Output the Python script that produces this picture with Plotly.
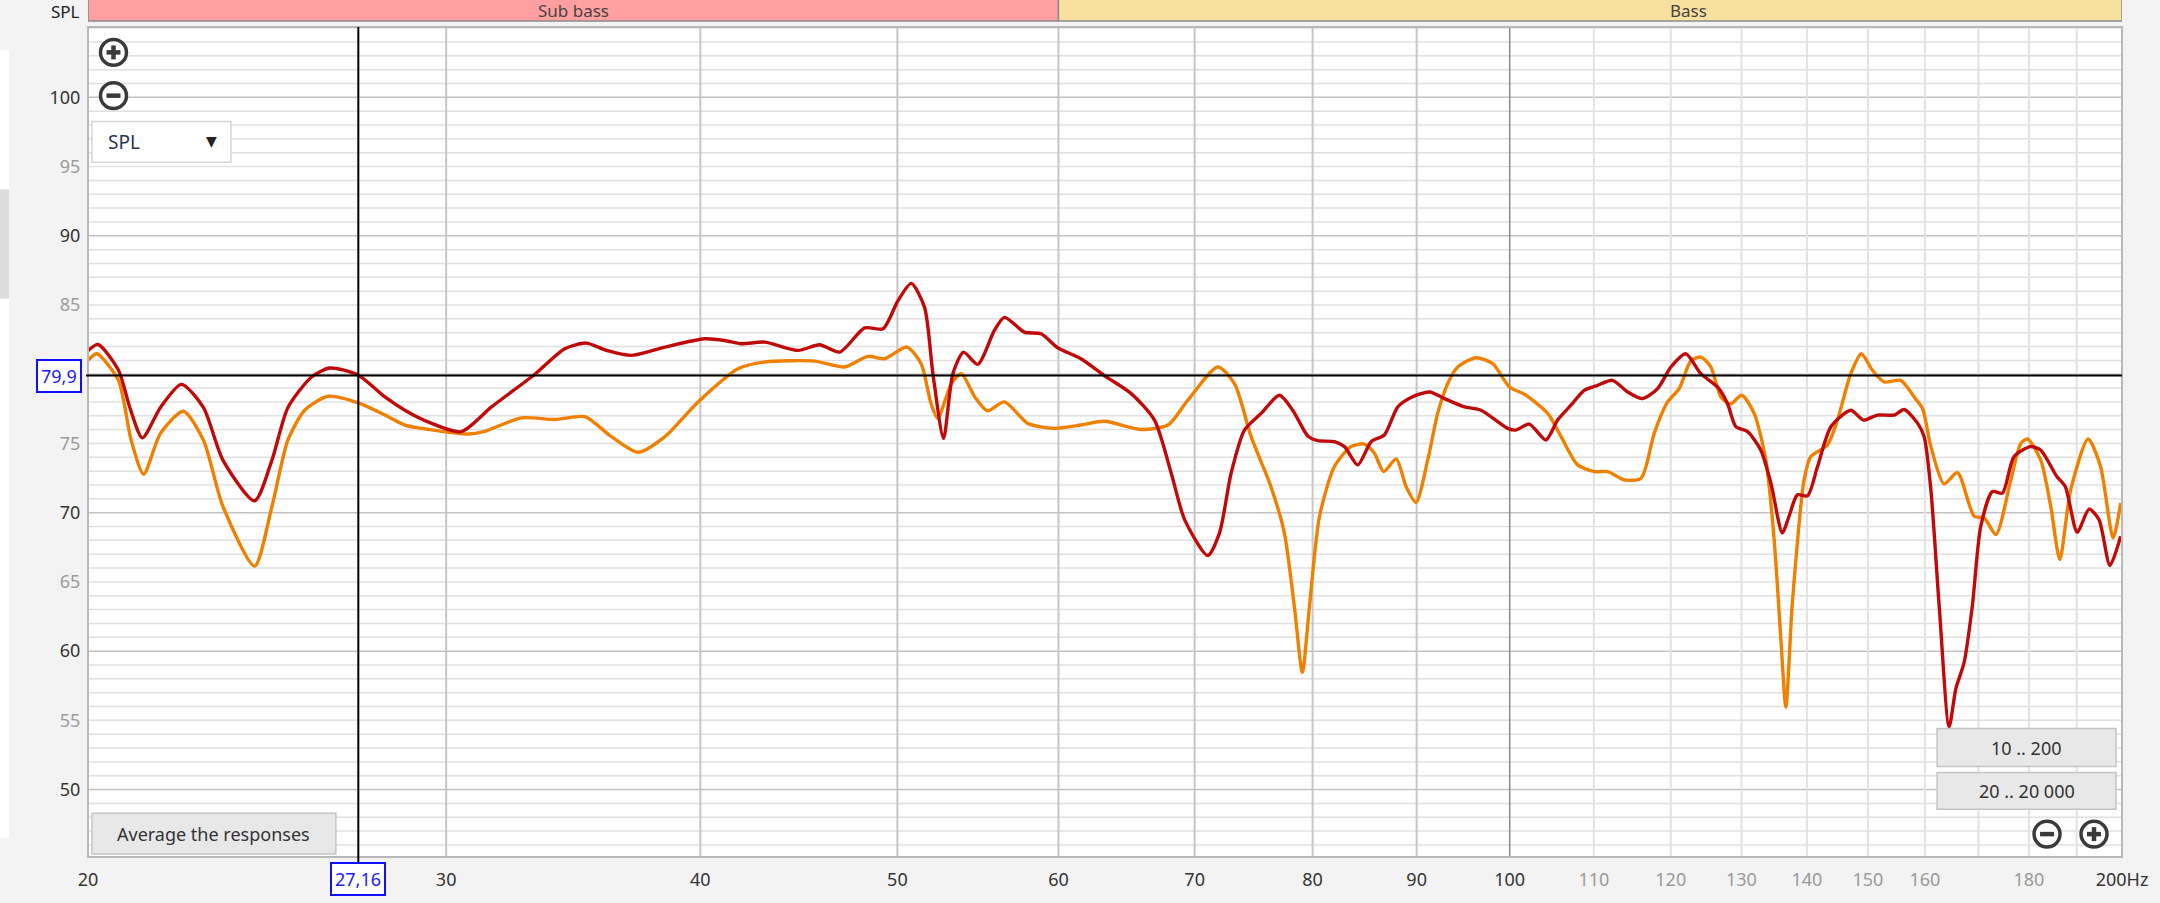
import math
import plotly.graph_objects as go

# ---------------- data ----------------
red_freq = [20.0, 20.23, 20.7, 20.97, 21.27, 21.71, 22.23, 22.79, 23.3, 24.15, 24.63, 25.08, 25.76, 26.3,
            27.16, 27.99, 28.63, 29.45, 30.52, 31.58, 33.17, 34.31, 35.16, 35.97, 37.0, 38.43, 40.2, 41.12,
            41.9, 43.02, 44.69, 45.79, 46.84, 48.18, 49.19, 50.03, 50.79, 51.56, 52.05, 52.68, 53.24, 53.89,
            54.76, 55.8, 56.44, 57.73, 58.83, 59.95, 61.55, 63.2, 65.15, 66.89, 68.17, 69.21, 71.05, 72.0,
            72.95, 74.06, 75.47, 77.05, 78.22, 79.57, 80.47, 82.0, 82.94, 84.2, 85.48, 86.77, 88.1, 89.44,
            91.31, 92.89, 95.0, 96.8, 99.77, 100.7, 102.24, 104.19, 105.57, 107.18, 108.8, 110.45, 112.34,
            114.29, 116.24, 118.23, 120.02, 122.06, 124.15, 126.52, 127.96, 129.17, 130.9, 132.87, 134.41,
            136.15, 137.19, 138.5, 140.09, 141.69, 143.85, 147.13, 149.25, 151.62, 154.54, 156.29, 158.7,
            159.87, 161.09, 162.61, 164.45, 165.7, 167.27, 168.83, 170.45, 172.72, 174.68, 176.99, 180.36,
            182.4, 185.78, 187.55, 190.12, 192.68, 194.86, 197.29, 199.7]
red_spl = [81.7, 82.15, 80.3, 77.6, 75.4, 77.6, 79.27, 77.6, 73.8, 70.86, 73.8, 77.6, 79.8, 80.45,
           79.93, 78.36, 77.4, 76.5, 75.85, 77.64, 80.0, 81.84, 82.25, 81.72, 81.36, 81.96, 82.56, 82.44,
           82.2, 82.32, 81.72, 82.13, 81.6, 83.35, 83.28, 85.31, 86.56, 84.83, 80.04, 75.37, 80.04, 81.6,
           80.71, 83.16, 84.11, 83.04, 82.92, 81.91, 81.12, 79.9, 78.6, 76.69, 72.85, 69.5, 66.91, 68.54,
           72.85, 75.97, 77.17, 78.48, 77.4, 75.54, 75.2, 75.13, 74.77, 73.45, 75.13, 75.61, 77.64, 78.32,
           78.72, 78.24, 77.64, 77.4, 76.09, 75.97, 76.4, 75.25, 76.69, 77.76, 78.84, 79.2, 79.56,
           78.72, 78.24, 78.96, 80.52, 81.48, 80.04, 79.08, 77.88, 76.21, 75.85, 74.53, 72.13,
           68.54, 69.74, 71.29, 71.22, 73.33, 76.21, 77.4, 76.69, 77.05, 77.05, 77.45, 76.45,
           75.49, 71.65, 63.27, 54.52, 57.28, 59.19, 63.27, 69.02, 71.53, 71.41, 74.05, 74.77,
           74.53, 72.61, 71.89, 68.59, 70.26, 69.5, 66.19, 68.3]

orange_freq = [20.0, 20.2, 20.7, 21.0, 21.3, 21.71, 22.28, 22.79, 23.3, 24.15, 24.63, 25.08, 25.56, 26.25,
               27.16, 27.99, 28.63, 29.45, 30.76, 31.3, 32.67, 33.93, 35.1, 36.17, 37.28, 38.43, 39.9,
               41.75, 43.02, 45.52, 47.1, 48.36, 49.29, 50.54, 51.36, 51.94, 52.33, 53.15, 53.75, 54.58,
               55.36, 56.44, 57.95, 59.72, 61.55, 63.2, 65.89, 67.92, 69.46, 71.86, 73.23, 74.62, 76.31,
               77.48, 78.36, 79.08, 79.72, 80.63, 82.0, 83.56, 84.84, 85.8, 86.71, 87.94, 88.93, 89.94,
               91.14, 92.17, 93.2, 94.29, 96.27, 98.1, 99.97, 101.68, 104.4, 105.99, 108.0, 110.06, 111.73,
               113.86, 116.04, 117.77, 119.57, 121.15, 122.75, 124.15, 125.58, 127.0, 128.36, 130.06,
               131.88, 133.64, 134.9, 135.93, 136.7, 137.67, 138.77, 139.55, 140.61, 143.29, 144.92,
               147.13, 148.9, 150.77, 152.79, 155.68, 158.07, 159.57, 161.09, 163.51, 166.02, 169.19,
               171.11, 173.4, 176.35, 178.35, 179.7, 182.4, 184.5, 186.4, 188.7, 192.46, 195.2, 198.0, 199.7]
orange_spl = [81.0, 81.48, 79.56, 75.25, 72.78, 75.73, 77.33, 75.25, 70.45, 66.14, 70.45, 75.25, 77.4, 78.41,
              77.93, 77.05, 76.33, 76.0, 75.68, 75.85, 76.85, 76.73, 76.93, 75.49, 74.36, 75.49, 78.0,
              80.4, 80.88, 80.95, 80.52, 81.29, 81.12, 81.96, 80.76, 77.88, 76.81, 79.32, 80.04, 78.36,
              77.36, 78.0, 76.45, 76.09, 76.33, 76.6, 76.01, 76.33, 78.12, 80.52, 79.32, 75.49, 71.89,
              68.54, 63.27, 58.47, 63.27, 69.74, 73.33, 74.77, 74.96, 74.29, 72.97, 73.88, 71.89, 70.74,
              73.81, 77.17, 79.3, 80.52, 81.19, 80.76, 79.08, 78.55, 77.17, 75.49, 73.45, 72.97, 72.97,
              72.37, 72.49, 75.73, 78.0, 78.96, 80.95, 81.24, 80.52, 78.36, 77.84, 78.48,
              77.17, 73.81, 68.06, 60.87, 55.96, 63.27, 69.26, 72.37, 74.05, 74.89, 76.69,
              80.05, 81.48, 80.29, 79.44, 79.56, 78.36, 77.52, 74.77, 72.08, 72.9, 69.74,
              69.62, 68.42, 72.37, 75.0, 75.32, 73.81, 70.45, 66.62, 71.65, 75.32, 73.33, 68.18, 70.7]

# 80 is hidden behind the cursor value box in the reference
y_ticks = [50, 55, 60, 65, 70, 75, 85, 90, 95, 100]
y_dark = [50, 60, 70, 80, 90, 100]
x_ticks = [20, 30, 40, 50, 60, 70, 80, 90, 100, 110, 120, 130, 140, 150, 160, 180, 200]
x_tick_text = ["20", "30", "40", "50", "60", "70", "80", "90", "100", "110", "120", "130", "140",
               "150", "160", "180", "200Hz"]
x_dark = [20, 30, 40, 50, 60, 70, 80, 90, 100, 200]
x_grid_major = [30, 40, 50, 60, 70, 80, 90]
x_grid_minor = [110, 120, 130, 140, 150, 160, 170, 180, 190]
bands = [("Sub bass", 20, 60, 34.64, "#ff9f9f"), ("Bass", 60, 200, 122.5, "#f8e19f")]
cursor_freq = 27.16
cursor_spl = 79.9

# ---------------- layout helpers ----------------
W, H = 2160, 903
L, R, T, B = 88, 2123, 27, 861
PW, PH = R - L, B - T


def px(x):
    return (x - L) / PW


def py(y):
    return (B - y) / PH


FONT = "Noto Sans"
DARK = "#333333"
LIGHT = "#9a9a9a"

fig = go.Figure()
fig.add_trace(go.Scatter(x=orange_freq, y=orange_spl, mode="lines",
                         line=dict(color="#f08000", width=3.4, shape="spline", smoothing=0.7),
                         hoverinfo="skip", showlegend=False))
fig.add_trace(go.Scatter(x=red_freq, y=red_spl, mode="lines",
                         line=dict(color="#c00a0a", width=3.4, shape="spline", smoothing=0.7),
                         hoverinfo="skip", showlegend=False))

shapes = []
# horizontal grid
for v in range(46, 106):
    major = v % 10 == 0
    shapes.append(dict(type="line", xref="paper", yref="y", x0=0, x1=1, y0=v, y1=v, layer="below",
                       line=dict(color="#c2c2c2" if major else "#e0e0e0", width=1.5)))
# vertical grid
for f in x_grid_major:
    shapes.append(dict(type="line", xref="x", yref="paper", x0=f, x1=f, y0=0, y1=1, layer="below",
                       line=dict(color="#c6c6c6", width=2)))
for f in x_grid_minor:
    shapes.append(dict(type="line", xref="x", yref="paper", x0=f, x1=f, y0=0, y1=1, layer="below",
                       line=dict(color="#e2e2e2", width=2)))
shapes.append(dict(type="line", xref="x", yref="paper", x0=100, x1=100, y0=0, y1=1, layer="below",
                   line=dict(color="#8a8a8a", width=1.5)))
# plot border
shapes.append(dict(type="rect", xref="paper", yref="paper", x0=0, x1=1, y0=0, y1=1,
                   line=dict(color="#b8b8b8", width=2)))
# bands
for name, f0, f1, fc, col in bands:
    shapes.append(dict(type="rect", xref="x", yref="paper", x0=f0, x1=f1, y0=py(21), y1=py(-2),
                       fillcolor=col, line=dict(color="#8c8c8c", width=1.5)))
# cursor lines
shapes.append(dict(type="line", xref="x", yref="paper", x0=cursor_freq, x1=cursor_freq, y0=py(867), y1=1,
                   line=dict(color="black", width=2)))
shapes.append(dict(type="line", xref="paper", yref="y", x0=px(86), x1=1, y0=cursor_spl, y1=cursor_spl,
                   line=dict(color="black", width=2)))
# left scrollbar strip
shapes.append(dict(type="rect", xref="paper", yref="paper", x0=px(0), x1=px(9), y0=py(842), y1=py(50),
                   fillcolor="white", line=dict(width=0)))
shapes.append(dict(type="rect", xref="paper", yref="paper", x0=px(0), x1=px(9), y0=py(300), y1=py(190),
                   fillcolor="#dcdcdc", line=dict(width=0)))


def button(x0, y0, x1, y1, fill="#e8e8e8", border="#c4c4c4"):
    shapes.append(dict(type="rect", xref="paper", yref="paper", x0=px(x0), x1=px(x1), y0=py(y1), y1=py(y0),
                       fillcolor=fill, line=dict(color=border, width=1.5)))


def zoom_icon(cx, cy, plus):
    r = 13
    shapes.append(dict(type="circle", xref="paper", yref="paper", x0=px(cx - r), x1=px(cx + r),
                       y0=py(cy + r), y1=py(cy - r), fillcolor="white", line=dict(color="#3a3a3a", width=3.5)))
    shapes.append(dict(type="line", xref="paper", yref="paper", x0=px(cx - 7), x1=px(cx + 7),
                       y0=py(cy), y1=py(cy), line=dict(color="#3a3a3a", width=4.5)))
    if plus:
        shapes.append(dict(type="line", xref="paper", yref="paper", x0=px(cx), x1=px(cx),
                           y0=py(cy + 7), y1=py(cy - 7), line=dict(color="#3a3a3a", width=4.5)))


zoom_icon(113.5, 52.5, True)
zoom_icon(113.5, 96, False)
zoom_icon(2048, 838, False)
zoom_icon(2095, 838, True)
button(92, 122, 231, 163, fill="white", border="#d6d6d6")
button(92, 817, 336, 858)
button(1938, 732, 2117, 770)
button(1938, 776, 2117, 813)

annotations = []
for name, f0, f1, fc, col in bands:
    annotations.append(dict(x=math.log10(fc), y=py(10), xref="x", yref="paper", text=name, showarrow=False,
                            font=dict(family=FONT, size=17, color="#444444"), yanchor="middle"))
annotations.append(dict(x=px(82), y=py(11), xref="paper", yref="paper", text="SPL", showarrow=False,
                        xanchor="right", yanchor="middle", font=dict(family=FONT, size=17, color="#222222")))
annotations.append(dict(x=px(106), y=py(143), xref="paper", yref="paper", text="SPL", showarrow=False,
                        xanchor="left", yanchor="middle", font=dict(family=FONT, size=19, color="#2a3550")))
annotations.append(dict(x=px(212), y=py(142), xref="paper", yref="paper", text="▼", showarrow=False,
                        xanchor="center", yanchor="middle", font=dict(family="DejaVu Sans", size=14, color="#222222")))
annotations.append(dict(x=px(214), y=py(837.5), xref="paper", yref="paper", text="Average the responses",
                        showarrow=False, xanchor="center", yanchor="middle",
                        font=dict(family=FONT, size=18, color="#333333")))
annotations.append(dict(x=px(2027.5), y=py(751), xref="paper", yref="paper", text="10 .. 200",
                        showarrow=False, xanchor="center", yanchor="middle",
                        font=dict(family=FONT, size=18, color="#333333")))
annotations.append(dict(x=px(2027.5), y=py(794.5), xref="paper", yref="paper", text="20 .. 20 000",
                        showarrow=False, xanchor="center", yanchor="middle",
                        font=dict(family=FONT, size=18, color="#333333")))
# cursor value boxes
annotations.append(dict(x=px(59), y=cursor_spl, xref="paper", yref="y", text="79,9", showarrow=False,
                        xanchor="center", yanchor="middle", bgcolor="white", bordercolor="#1010ff",
                        borderwidth=2, borderpad=3, font=dict(family=FONT, size=18, color="#1a1aff")))
annotations.append(dict(x=math.log10(cursor_freq), y=py(883), xref="x", yref="paper", text="27,16",
                        showarrow=False, xanchor="center", yanchor="middle", bgcolor="white",
                        bordercolor="#1010ff", borderwidth=2, borderpad=3,
                        font=dict(family=FONT, size=18, color="#1a1aff")))

y_text = [f'<span style="color:{DARK if v in y_dark else LIGHT}">{v}</span>' for v in y_ticks]
x_text = [f'<span style="color:{DARK if f in x_dark else LIGHT}">{t}</span>' for f, t in zip(x_ticks, x_tick_text)]

fig.update_layout(
    width=W, height=H, autosize=False,
    margin=dict(l=L, r=W - R, t=T, b=H - B, pad=0),
    paper_bgcolor="#f3f3f3", plot_bgcolor="white",
    font=dict(family=FONT, size=18, color=DARK),
    shapes=shapes, annotations=annotations, showlegend=False,
    xaxis=dict(type="log", range=[math.log10(20), math.log10(200)], tickvals=x_ticks, ticktext=x_text,
               showgrid=False, zeroline=False, showline=False, ticks="outside", ticklen=6,
               tickcolor="rgba(0,0,0,0)", tickfont=dict(size=18)),
    yaxis=dict(range=[45.13, 105.08], tickvals=y_ticks, ticktext=y_text, showgrid=False, zeroline=False,
               showline=False, ticks="outside", ticklen=3, tickcolor="rgba(0,0,0,0)", tickfont=dict(size=18)),
)

fig.write_html("out.html", config={"displayModeBar": False},
               post_script="document.body.style.margin='0';")
